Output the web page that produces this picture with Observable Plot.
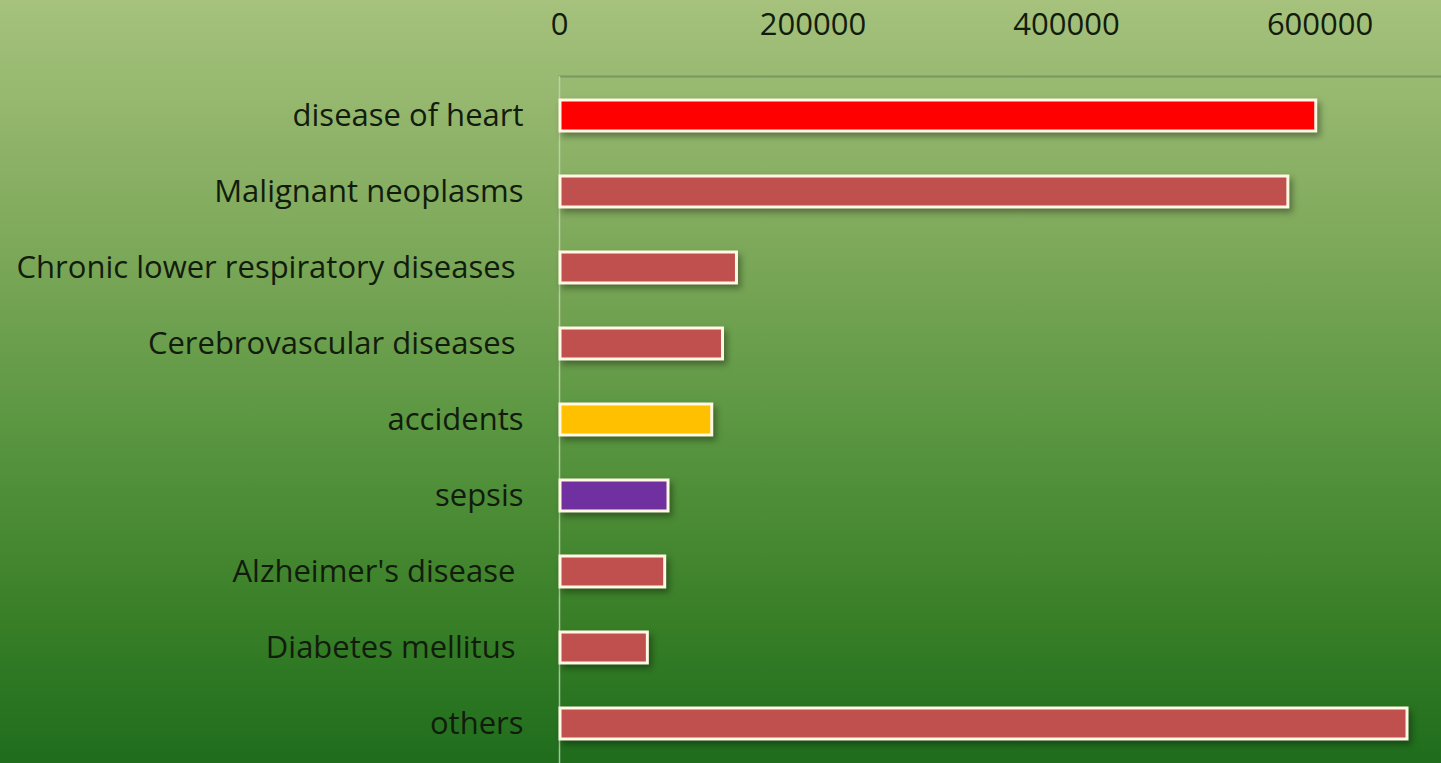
<!DOCTYPE html>
<html>
<head>
<meta charset="utf-8">
<script src="https://cdn.jsdelivr.net/npm/d3@7"></script>
<script src="https://cdn.jsdelivr.net/npm/@observablehq/plot@0.6"></script>
<style>
  html, body { margin: 0; padding: 0; }
  #chart {
    width: 1441px;
    height: 763px;
    overflow: hidden;
    background: linear-gradient(to bottom, #a6c27d 0%, #80aa5c 30%, #5c9742 55%, #3a8028 80%, #1f6d1d 100%);
  }
  #chart svg { display: block; }
</style>
</head>
<body>
<div id="chart"></div>
<script>
// Causes of death, number of deaths
const causes = [
  "disease of heart",
  "Malignant neoplasms",
  "Chronic lower respiratory diseases\u00a0",
  "Cerebrovascular diseases\u00a0",
  "accidents",
  "sepsis",
  "Alzheimer's disease\u00a0",
  "Diabetes mellitus\u00a0",
  "others"
];
const deaths = [597000, 575000, 140000, 129000, 120500, 86000, 83400, 69700, 669000];
const barColors = ["#ff0000", "#c0504d", "#c0504d", "#c0504d", "#ffc000", "#7030a0", "#c0504d", "#c0504d", "#c0504d"];
const xTicks = [0, 200000, 400000, 600000];

const rows = causes.map((cause, i) => ({cause, deaths: deaths[i], color: barColors[i]}));

const chart = Plot.plot({
  width: 1441,
  height: 763,
  marginLeft: 559,
  marginRight: 0,
  marginTop: 76,
  marginBottom: 0,
  style: {
    background: "transparent",
    fontFamily: "'Open Sans', 'Noto Sans', sans-serif",
    fontSize: "31px",
    color: "#121c0c"
  },
  x: {domain: [0, 695800], label: null},
  y: {domain: causes, paddingInner: 0.59, paddingOuter: 0.295, label: null},
  marks: [
    Plot.frame({anchor: "top", stroke: "#789861", strokeWidth: 2}),
    Plot.ruleX([0], {stroke: "#c9d6b8", strokeWidth: 1.5, strokeOpacity: 0.8}),
    Plot.barX(rows, {
      x: "deaths",
      y: "cause",
      fill: "color",
      stroke: "#fff8e4",
      strokeWidth: 3,
      insetLeft: 1
    }),
    Plot.axisX({
      anchor: "top",
      ticks: xTicks,
      tickFormat: d => String(d),
      tickSize: 0,
      tickPadding: 42,
      fontSize: 31,
      label: null
    }),
    Plot.axisY({
      anchor: "left",
      tickSize: 0,
      tickPadding: 36,
      fontSize: 31,
      label: null
    })
  ]
});

d3.select(chart).selectAll("g[aria-label='bar']")
  .style("filter", "drop-shadow(3px 4px 3px rgba(0,0,0,0.35))");

document.getElementById("chart").appendChild(chart);
</script>
</body>
</html>
